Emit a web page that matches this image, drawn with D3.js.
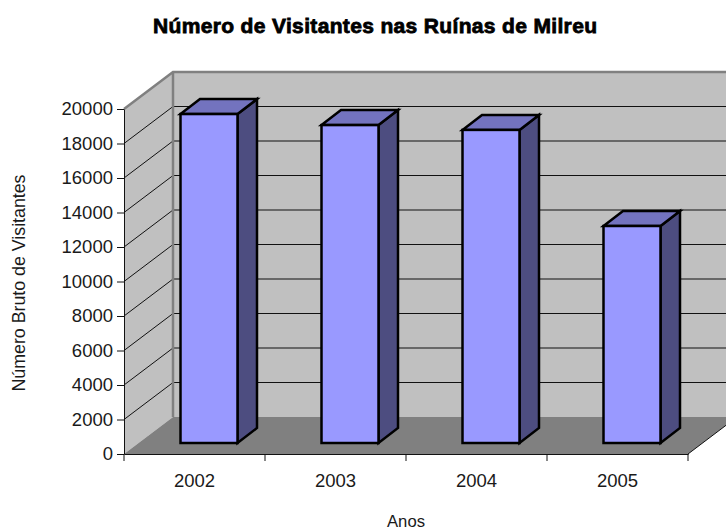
<!DOCTYPE html>
<html>
<head>
<meta charset="utf-8">
<script src="https://cdn.jsdelivr.net/npm/d3@7"></script>
<style>
  html, body { margin: 0; padding: 0; background: #fff; }
  text { font-family: "Liberation Sans", Arial, sans-serif; fill: #1a1a1a; }
</style>
</head>
<body>
<div id="root"></div>
<script>
const years = ['2002', '2003', '2004', '2005'];
const visitors = [19070, 18430, 18150, 12580];
const yTicks = [0, 2000, 4000, 6000, 8000, 10000, 12000, 14000, 16000, 18000, 20000];

const width = 726, height = 531;
const plot = { left: 124, right: 688, top: 109, bottom: 454 };
// profundidade do efeito 3D
const wall = { dx: 49, dy: -37 };
const barBase = { dx: 14.5, dy: -11 };
const barDepth = { dx: 19.5, dy: -15 };

const svg = d3.select('#root').append('svg')
  .attr('width', width)
  .attr('height', height)
  .style('display', 'block');

const x = d3.scaleBand().domain(years).range([plot.left, plot.right]);
const y = d3.scaleLinear().domain([0, 20000]).range([plot.bottom, plot.top]);
const barW = 57;

const pts = arr => arr.map(p => p.join(',')).join(' ');

// parede de fundo
svg.append('rect')
  .attr('x', plot.left + wall.dx)
  .attr('y', plot.top + wall.dy)
  .attr('width', width - plot.left - wall.dx)
  .attr('height', plot.bottom - plot.top)
  .attr('fill', '#c0c0c0');

// parede lateral
svg.append('polygon')
  .attr('points', pts([
    [plot.left, plot.top], [plot.left + wall.dx, plot.top + wall.dy],
    [plot.left + wall.dx, plot.bottom + wall.dy], [plot.left, plot.bottom]
  ]))
  .attr('fill', '#c0c0c0');

// chão
svg.append('polygon')
  .attr('points', pts([
    [plot.left, plot.bottom], [plot.left + wall.dx, plot.bottom + wall.dy],
    [plot.right + wall.dx, plot.bottom + wall.dy], [plot.right, plot.bottom]
  ]))
  .attr('fill', '#808080');

// linhas de grelha
const grid = yTicks.filter(d => d > 0);
svg.append('g').selectAll('line.back').data(grid).join('line')
  .attr('class', 'back')
  .attr('x1', plot.left + wall.dx).attr('x2', width)
  .attr('y1', d => y(d) + wall.dy).attr('y2', d => y(d) + wall.dy)
  .attr('stroke', '#111').attr('stroke-width', 1);
svg.append('g').selectAll('line.side').data(grid).join('line')
  .attr('class', 'side')
  .attr('x1', plot.left).attr('x2', plot.left + wall.dx)
  .attr('y1', d => y(d)).attr('y2', d => y(d) + wall.dy)
  .attr('stroke', '#111').attr('stroke-width', 1);

// contorno cinzento das paredes
svg.append('path')
  .attr('d', `M${plot.left},${plot.top}L${plot.left + wall.dx},${plot.top + wall.dy}L${width},${plot.top + wall.dy}`)
  .attr('fill', 'none').attr('stroke', '#808080').attr('stroke-width', 2.5);
svg.append('line')
  .attr('x1', plot.left + wall.dx).attr('x2', plot.left + wall.dx)
  .attr('y1', plot.top + wall.dy).attr('y2', plot.bottom + wall.dy)
  .attr('stroke', '#808080').attr('stroke-width', 2.5);

// aresta direita do chão
svg.append('line')
  .attr('x1', plot.right).attr('y1', plot.bottom)
  .attr('x2', plot.right + wall.dx).attr('y2', plot.bottom + wall.dy)
  .attr('stroke', '#111').attr('stroke-width', 1);

// colunas
const bars = svg.append('g').selectAll('g').data(years).join('g');
const bx = d => x(d) + x.bandwidth() / 2 - barW / 2 + barBase.dx;
const value = d => visitors[years.indexOf(d)];
const barTop = d => y(value(d)) + barBase.dy;
const barBottom = y(0) + barBase.dy;

bars.append('polygon')
  .attr('points', d => pts([
    [bx(d) + barW, barTop(d)], [bx(d) + barW + barDepth.dx, barTop(d) + barDepth.dy],
    [bx(d) + barW + barDepth.dx, barBottom + barDepth.dy], [bx(d) + barW, barBottom]
  ]))
  .attr('fill', '#4d4d80');
bars.append('polygon')
  .attr('points', d => pts([
    [bx(d), barTop(d)], [bx(d) + barDepth.dx, barTop(d) + barDepth.dy],
    [bx(d) + barW + barDepth.dx, barTop(d) + barDepth.dy], [bx(d) + barW, barTop(d)]
  ]))
  .attr('fill', '#7373bf');
bars.append('rect')
  .attr('x', bx)
  .attr('y', barTop)
  .attr('width', barW)
  .attr('height', d => barBottom - barTop(d))
  .attr('fill', '#9999ff');
bars.selectAll('polygon, rect')
  .attr('stroke', '#000').attr('stroke-width', 2.5).attr('stroke-linejoin', 'miter');

// eixos
const gy = svg.append('g')
  .attr('transform', `translate(${plot.left},0)`)
  .call(d3.axisLeft(y).tickValues(yTicks).tickFormat(d => String(d)).tickSize(7).tickSizeOuter(0));
gy.selectAll('text').attr('font-size', 18.5).attr('x', -11).style('font-family', '"Liberation Sans"');
gy.selectAll('line, path').attr('stroke', '#111');

const gx = svg.append('g')
  .attr('transform', `translate(0,${plot.bottom})`)
  .call(d3.axisBottom(x).tickValues([]).tickSizeOuter(0));
gx.select('path').attr('stroke', '#111');
gx.selectAll('line.tick-mark')
  .data(d3.range(years.length + 1)).join('line')
  .attr('class', 'tick-mark')
  .attr('x1', i => plot.left + i * x.step()).attr('x2', i => plot.left + i * x.step())
  .attr('y1', 0).attr('y2', 7)
  .attr('stroke', '#111');
gx.selectAll('text.year').data(years).join('text')
  .attr('class', 'year')
  .attr('x', d => x(d) + x.bandwidth() / 2)
  .attr('y', 33)
  .attr('text-anchor', 'middle')
  .attr('font-size', 18.5)
  .text(d => d);

// títulos
svg.append('text')
  .attr('x', 375).attr('y', 33)
  .attr('text-anchor', 'middle')
  .attr('font-size', 21)
  .attr('font-weight', 'bold')
  .attr('stroke', '#000').attr('stroke-width', 0.8)
  .attr('textLength', 444)
  .attr('lengthAdjust', 'spacing')
  .style('fill', '#000')
  .text('Número de Visitantes nas Ruínas de Milreu');
svg.append('text')
  .attr('x', 406).attr('y', 527)
  .attr('text-anchor', 'middle')
  .attr('font-size', 17)
  .attr('textLength', 38)
  .attr('lengthAdjust', 'spacingAndGlyphs')
  .text('Anos');
svg.append('text')
  .attr('transform', 'translate(25,283) rotate(-90)')
  .attr('text-anchor', 'middle')
  .attr('font-size', 17.5)
  .attr('textLength', 217)
  .attr('lengthAdjust', 'spacingAndGlyphs')
  .text('Número Bruto de Visitantes');
</script>
</body>
</html>
